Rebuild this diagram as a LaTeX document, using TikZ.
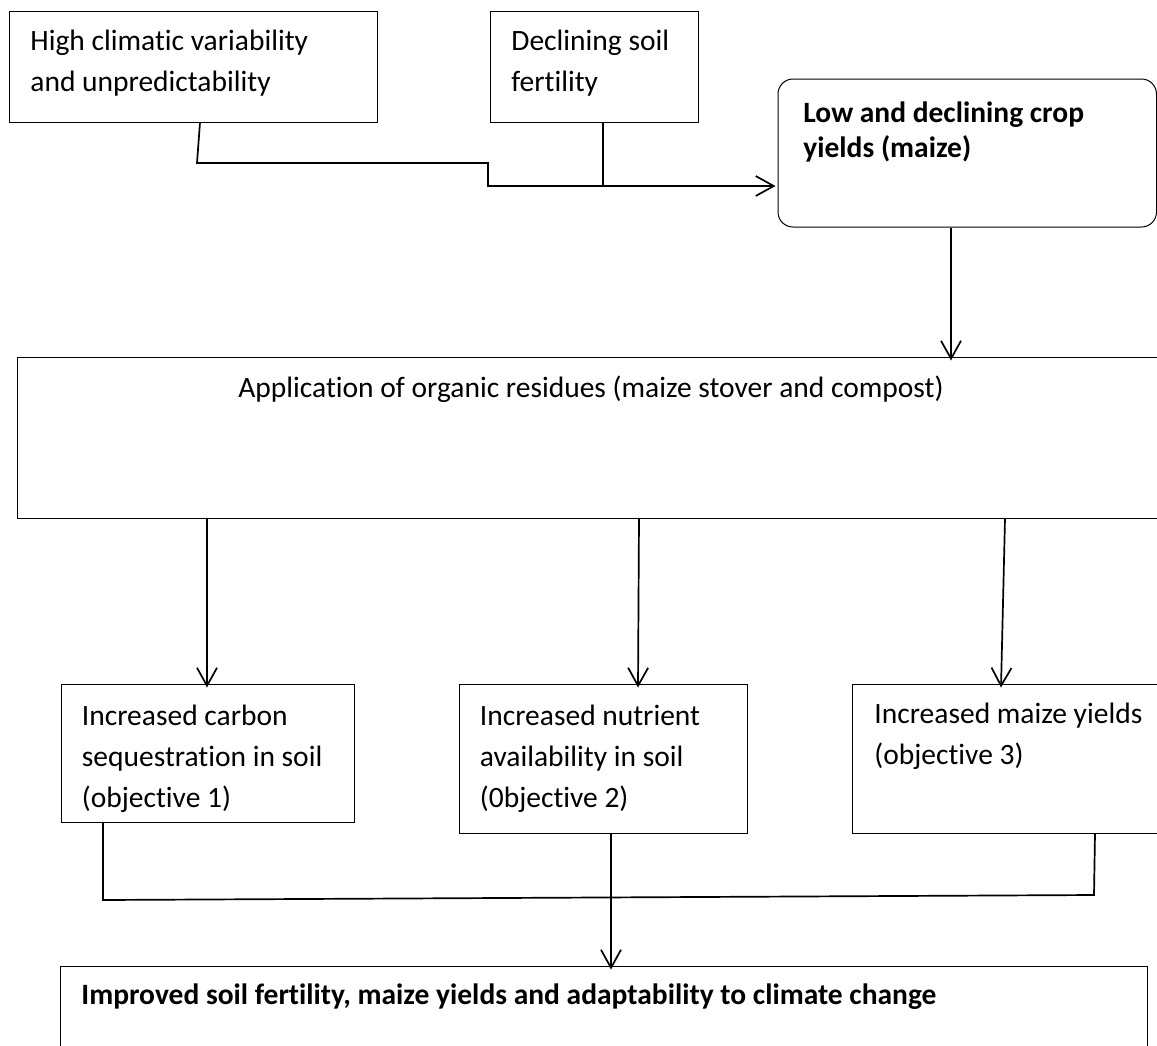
\documentclass[tikz,border=0pt]{standalone}
\usepackage{fontspec}
\setmainfont[Ligatures=NoCommon]{Carlito}
\usetikzlibrary{arrows.meta,fit}
\begin{document}
\begin{tikzpicture}[x=0.5pt,y=-0.5pt,
  box/.style={draw,line width=0.5pt,inner sep=0pt},
  txt/.style={anchor=base west,inner sep=0pt,align=left,font=\fontsize{14.75}{20.5}\selectfont},
  btxt/.style={anchor=base west,inner sep=0pt,align=left,font=\fontsize{14.75}{17.5}\selectfont\bfseries},
  conn/.style={line width=0.85pt},
  arr/.style={conn,-{Straight Barb[length=9pt,width=10pt]}}]
\useasboundingbox (0,0) rectangle (1157,1045);
% boxes
\node[box,fit={(9,11) (377,122)}] (A) {};
\node[box,fit={(490,11) (698,122)}] (B) {};
\node[box,rounded corners=7.5pt,fit={(778,79) (1156.5,227)}] (C) {};
\node[box,fit={(17,357) (1162,518)}] (D) {};
\node[box,fit={(61,684) (354,822)}] (E) {};
\node[box,fit={(459,684) (747,833)}] (F) {};
\node[box,fit={(852,684) (1162,833)}] (G) {};
\node[box,fit={(60.5,966) (1147,1052)}] (H) {};
% texts (base anchor = baseline of last line)
\node[txt] (tA) at (30,91) {High climatic variability\\and unpredictability};
\node[txt] (tB) at (511,91) {Declining soil\\fertility};
\node[btxt] (tC) at (803,157) {Low and declining crop\\yields (maize)};
\node[txt,anchor=base] (tD) at (591,397) {Application of organic residues (maize stover and compost)};
\node[txt] (tE) at (81.5,807) {Increased carbon\\sequestration in soil\\(objective 1)};
\node[txt] (tF) at (479.5,807) {Increased nutrient\\availability in soil\\(0bjective 2)};
\node[txt] (tG) at (874,764) {Increased maize yields\\(objective 3)};
\node[btxt] (tH) at (81,1004) {Improved soil fertility, maize yields and adaptability to climate change};
% junction coordinates
\coordinate (j1) at (197,163);
\coordinate (j2) at (488,163);
\coordinate (j3) at (488,186);
\coordinate (j4) at (103,900);
\coordinate (j5) at (1094,895);
% connectors
\draw[arr] (A.south -| 200,0) -- (j1) -- (j2) -- (j3) -- ([xshift=-1pt]C.west |- j3);
\draw[conn] (B.south -| 603,0) -- (603,186);
\draw[arr] (C.south -| 951,0) -- ([yshift=-2pt]D.north -| 951,0);
\draw[arr] (D.south -| 207,0) -- ([yshift=-2pt]E.north -| 207,0);
\draw[arr] (D.south -| 639,0) -- ([yshift=-2pt]F.north -| 638,0);
\draw[arr] (D.south -| 1005,0) -- ([yshift=-2pt]G.north -| 1001,0);
\draw[conn] (E.south -| j4) -- (j4) -- (j5) -- (G.south -| 1095,0);
\draw[arr] (F.south -| 611,0) -- ([yshift=-2pt]H.north -| 611,0);
\end{tikzpicture}
\end{document}
